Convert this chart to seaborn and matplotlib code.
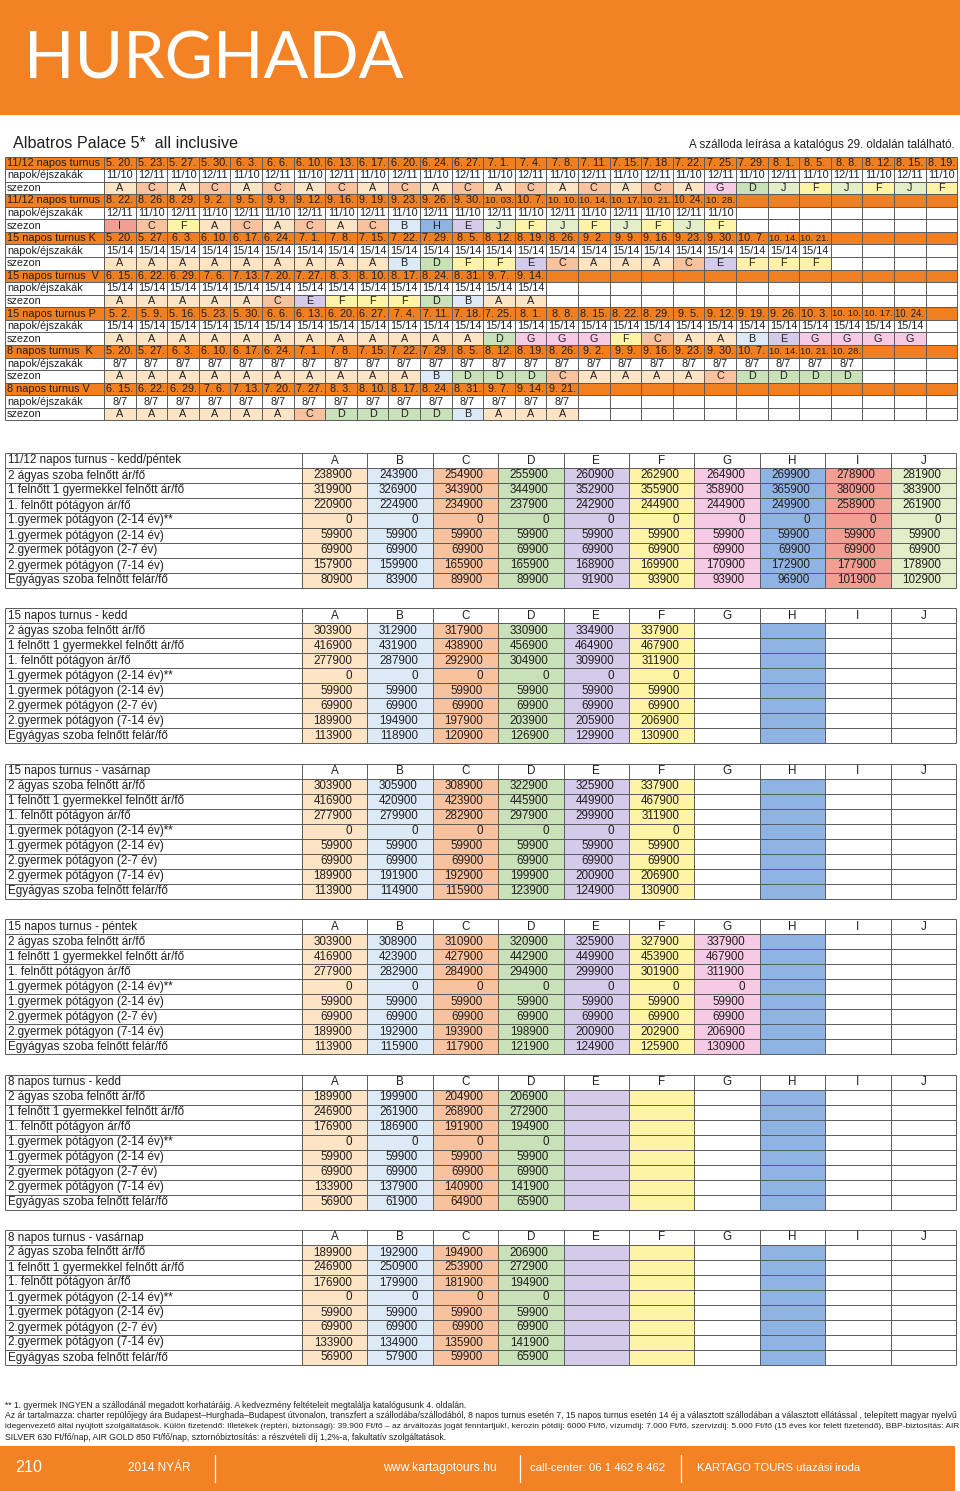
import matplotlib
matplotlib.use("Agg")
import matplotlib.pyplot as plt
from matplotlib.patches import Rectangle
from matplotlib.colors import ListedColormap
import numpy as np
import pandas as pd
import seaborn as sns

sns.set_theme(style="white")
NARROW = ["Liberation Sans Narrow", "Liberation Sans", "DejaVu Sans"]
plt.rcParams["font.family"] = NARROW

# ---------------------------------------------------------------- data
page_title = "HURGHADA"
hotel_name = "Albatros Palace 5*  all inclusive"
hotel_note = "A szálloda leírása a katalógus 29. oldalán található."

season_letters = ["A", "B", "C", "D", "E", "F", "G", "H", "I", "J"]
season_colors = ["#FDE4C4", "#DCEAF7", "#F8C29E", "#C8E1B8", "#D4CAEA",
                 "#FFF4A6", "#F6CAE5", "#8FB4E3", "#F29E93", "#E2EEC8"]

turnus_names = ["11/12 napos turnus", "11/12 napos turnus", "15 napos turnus K",
                "15 napos turnus  V", "15 napos turnus P", "8 napos turnus  K",
                "8 napos turnus V"]

dates_1 = ["5. 20.", "5. 23.", "5. 27.", "5. 30.", "6. 3.", "6. 6.", "6. 10.", "6. 13.", "6. 17.",
           "6. 20.", "6. 24.", "6. 27.", "7. 1.", "7. 4.", "7. 8.", "7. 11.", "7. 15.", "7. 18.",
           "7. 22.", "7. 25.", "7. 29.", "8. 1.", "8. 5.", "8. 8.", "8. 12.", "8. 15.", "8. 19."]
dates_2 = ["8. 22.", "8. 26.", "8. 29.", "9. 2.", "9. 5.", "9. 9.", "9. 12.", "9. 16.", "9. 19.",
           "9. 23.", "9. 26.", "9. 30.", "10. 03.", "10. 7.", "10. 10.", "10. 14.", "10. 17.",
           "10. 21.", "10. 24.", "10. 28."]
dates_3 = ["5. 20.", "5. 27.", "6. 3.", "6. 10.", "6. 17.", "6. 24.", "7. 1.", "7. 8.", "7. 15.",
           "7. 22.", "7. 29.", "8. 5.", "8. 12.", "8. 19.", "8. 26.", "9. 2.", "9. 9.", "9. 16.",
           "9. 23.", "9. 30.", "10. 7.", "10. 14.", "10. 21."]
dates_4 = ["6. 15.", "6. 22.", "6. 29.", "7. 6.", "7. 13.", "7. 20.", "7. 27.", "8. 3.", "8. 10.",
           "8. 17.", "8. 24.", "8. 31.", "9. 7.", "9. 14."]
dates_5 = ["5. 2.", "5. 9.", "5. 16.", "5. 23.", "5. 30.", "6. 6.", "6. 13.", "6. 20.", "6. 27.",
           "7. 4.", "7. 11.", "7. 18.", "7. 25.", "8. 1.", "8. 8.", "8. 15.", "8. 22.", "8. 29.",
           "9. 5.", "9. 12.", "9. 19.", "9. 26.", "10. 3.", "10. 10.", "10. 17.", "10. 24."]
dates_6 = ["5. 20.", "5. 27.", "6. 3.", "6. 10.", "6. 17.", "6. 24.", "7. 1.", "7. 8.", "7. 15.",
           "7. 22.", "7. 29.", "8. 5.", "8. 12.", "8. 19.", "8. 26.", "9. 2.", "9. 9.", "9. 16.",
           "9. 23.", "9. 30.", "10. 7.", "10. 14.", "10. 21.", "10. 28."]
dates_7 = ["6. 15.", "6. 22.", "6. 29.", "7. 6.", "7. 13.", "7. 20.", "7. 27.", "8. 3.", "8. 10.",
           "8. 17.", "8. 24.", "8. 31.", "9. 7.", "9. 14.", "9. 21."]

nights_1 = ("11/10 12/11 11/10 12/11 11/10 12/11 11/10 12/11 11/10 12/11 11/10 12/11 11/10 12/11 "
            "11/10 12/11 11/10 12/11 11/10 12/11 11/10 12/11 11/10 12/11 11/10 12/11 11/10").split()
nights_2 = ("12/11 11/10 12/11 11/10 12/11 11/10 12/11 11/10 12/11 11/10 12/11 11/10 12/11 11/10 "
            "12/11 11/10 12/11 11/10 12/11 11/10").split()
nights_3 = ["15/14"] * 23
nights_4 = ["15/14"] * 14
nights_5 = ["15/14"] * 26
nights_6 = ["8/7"] * 24
nights_7 = ["8/7"] * 15

season_1 = "A C A C A C A C A C A C A C A C A C A G D J F J F J F".split()
season_2 = "I C F A C A C A C B H E J F J F J F J F".split()
season_3 = "A A A A A A A A A B D F F E C A A A C E F F F".split()
season_4 = "A A A A A C E F F F D B A A".split()
season_5 = "A A A A A A A A A A A A D G G G F C A A B E G G G G".split()
season_6 = "A A A A A A A A A A B D D D C A A A A C D D D D".split()
season_7 = "A A A A A A C D D D D B A A A".split()

turnus_dates = [dates_1, dates_2, dates_3, dates_4, dates_5, dates_6, dates_7]
turnus_nights = [nights_1, nights_2, nights_3, nights_4, nights_5, nights_6, nights_7]
turnus_seasons = [season_1, season_2, season_3, season_4, season_5, season_6, season_7]

price_titles = ["11/12 napos turnus - kedd/péntek", "15 napos turnus - kedd",
                "15 napos turnus - vasárnap", "15 napos turnus - péntek",
                "8 napos turnus - kedd", "8 napos turnus - vasárnap"]
price_rows = ["2 ágyas szoba felnőtt ár/fő", "1 felnőtt 1 gyermekkel felnőtt ár/fő",
              "1. felnőtt pótágyon ár/fő", "1.gyermek pótágyon (2-14 év)**",
              "1.gyermek pótágyon (2-14 év)", "2.gyermek pótágyon (2-7 év)",
              "2.gyermek pótágyon (7-14 év)", "Egyágyas szoba felnőtt felár/fő"]

prices_1 = [[238900, 243900, 254900, 255900, 260900, 262900, 264900, 269900, 278900, 281900],
            [319900, 326900, 343900, 344900, 352900, 355900, 358900, 365900, 380900, 383900],
            [220900, 224900, 234900, 237900, 242900, 244900, 244900, 249900, 258900, 261900],
            [0, 0, 0, 0, 0, 0, 0, 0, 0, 0],
            [59900, 59900, 59900, 59900, 59900, 59900, 59900, 59900, 59900, 59900],
            [69900, 69900, 69900, 69900, 69900, 69900, 69900, 69900, 69900, 69900],
            [157900, 159900, 165900, 165900, 168900, 169900, 170900, 172900, 177900, 178900],
            [80900, 83900, 89900, 89900, 91900, 93900, 93900, 96900, 101900, 102900]]
prices_2 = [[303900, 312900, 317900, 330900, 334900, 337900],
            [416900, 431900, 438900, 456900, 464900, 467900],
            [277900, 287900, 292900, 304900, 309900, 311900],
            [0, 0, 0, 0, 0, 0],
            [59900, 59900, 59900, 59900, 59900, 59900],
            [69900, 69900, 69900, 69900, 69900, 69900],
            [189900, 194900, 197900, 203900, 205900, 206900],
            [113900, 118900, 120900, 126900, 129900, 130900]]
prices_3 = [[303900, 305900, 308900, 322900, 325900, 337900],
            [416900, 420900, 423900, 445900, 449900, 467900],
            [277900, 279900, 282900, 297900, 299900, 311900],
            [0, 0, 0, 0, 0, 0],
            [59900, 59900, 59900, 59900, 59900, 59900],
            [69900, 69900, 69900, 69900, 69900, 69900],
            [189900, 191900, 192900, 199900, 200900, 206900],
            [113900, 114900, 115900, 123900, 124900, 130900]]
prices_4 = [[303900, 308900, 310900, 320900, 325900, 327900, 337900],
            [416900, 423900, 427900, 442900, 449900, 453900, 467900],
            [277900, 282900, 284900, 294900, 299900, 301900, 311900],
            [0, 0, 0, 0, 0, 0, 0],
            [59900, 59900, 59900, 59900, 59900, 59900, 59900],
            [69900, 69900, 69900, 69900, 69900, 69900, 69900],
            [189900, 192900, 193900, 198900, 200900, 202900, 206900],
            [113900, 115900, 117900, 121900, 124900, 125900, 130900]]
prices_5 = [[189900, 199900, 204900, 206900],
            [246900, 261900, 268900, 272900],
            [176900, 186900, 191900, 194900],
            [0, 0, 0, 0],
            [59900, 59900, 59900, 59900],
            [69900, 69900, 69900, 69900],
            [133900, 137900, 140900, 141900],
            [56900, 61900, 64900, 65900]]
prices_6 = [[189900, 192900, 194900, 206900],
            [246900, 250900, 253900, 272900],
            [176900, 179900, 181900, 194900],
            [0, 0, 0, 0],
            [59900, 59900, 59900, 59900],
            [69900, 69900, 69900, 69900],
            [133900, 134900, 135900, 141900],
            [56900, 57900, 59900, 65900]]
price_tables = [prices_1, prices_2, prices_3, prices_4, prices_5, prices_6]
# columns that carry a season tint (even where no price is given)
tinted_columns = ["ABCDEFGHIJ", "ABCDEFH", "ABCDEFH", "ABCDEFGH", "ABCDEFH", "ABCDEFH"]

footnotes = [
    "** 1. gyermek INGYEN a szállodánál megadott korhatáráig. A kedvezmény feltételeit megtalálja katalógusunk 4. oldalán.",
    "Az ár tartalmazza: charter repülőjegy ára Budapest–Hurghada–Budapest útvonalon, transzfert a szállodába/szállodából, 8 napos turnus esetén 7, 15 napos turnus esetén 14 éj a választott szállodában a választott ellátással , telepített magyar nyelvű",
    "idegenvezető által nyújtott szolgáltatások. Külön fizetendő: Illetékek (reptéri, biztonsági): 39.900 Ft/fő – az árváltozás jogát fenntartjuk!, kerozin pótdíj: 6000 Ft/fő, vízumdíj: 7.000 Ft/fő, szervizdíj: 5.000 Ft/fő (15 éves kor felett fizetendő), BBP-biztosítás: AIR",
    "SILVER 630 Ft/fő/nap, AIR GOLD 850 Ft/fő/nap, sztornóbiztosítás: a részvételi díj 1,2%-a, fakultatív szolgáltatások.",
]
footer_page = "210"
footer_season = "2014 NYÁR"
footer_web = "www.kartagotours.hu"
footer_call = "call-center: 06 1 462 8 462"
footer_company = "KARTAGO TOURS utazási iroda"

# ---------------------------------------------------------------- layout
W, H = 960, 1491
ORANGE = "#F38224"
ORANGE_ROW = "#EF7F20"
INK = "#231F20"
GRID = "#5A5A5A"
LW = 0.7
FS_T = 7.8     # schedule table
FS_P = 8.4     # price tables
color_of = dict(zip(season_letters, season_colors))

fig = plt.figure(figsize=(W / 100, H / 100), dpi=100)
renderer = fig.canvas.get_renderer()
ax = fig.add_axes([0, 0, 1, 1])
ax.set_xlim(0, W)
ax.set_ylim(H, 0)
ax.set_axis_off()


def px_axes(x, y, w, h):
    return fig.add_axes([x / W, 1 - (y + h) / H, w / W, h / H])


def fit(t, target):
    w = t.get_window_extent(renderer=renderer).width
    t.set_fontsize(t.get_fontsize() * target / w)
    return t


def shrink_to(t, maxw):
    w = t.get_window_extent(renderer=renderer).width
    if w > maxw:
        t.set_fontsize(t.get_fontsize() * maxw / w)
    return t


# header band
ax.add_patch(Rectangle((0, 0), W, 115, fc=ORANGE, ec="none"))
ttl = ax.text(24, 60, page_title, color="white", fontsize=48, family=["Lato", "DejaVu Sans"],
              va="center", ha="left")
fit(ttl, 380)
ax.text(13, 143, hotel_name, color=INK, fontsize=11.6, va="center", ha="left")
ax.text(955, 145, hotel_note, color=INK, fontsize=8.4, va="center", ha="right")

# ---------------- schedule table
TX0, TLW, TCW = 5.0, 99.0, 31.6
TY0, TRH = 156.5, 12.57
NCOL = 27
TX_END = TX0 + TLW + NCOL * TCW
hlines, vlines = [], []
for g, (name, dts, nts, sea) in enumerate(zip(turnus_names, turnus_dates,
                                              turnus_nights, turnus_seasons)):
    y = TY0 + 3 * g * TRH
    ax.add_patch(Rectangle((TX0, y), TX_END - TX0, TRH, fc=ORANGE_ROW, ec="none"))
    ax.text(TX0 + 2, y + TRH / 2, name, fontsize=FS_T, color=INK, va="center", ha="left")
    ax.text(TX0 + 2, y + 1.5 * TRH, "napok/éjszakák", fontsize=FS_T, color=INK, va="center")
    ax.text(TX0 + 2, y + 2.5 * TRH, "szezon", fontsize=FS_T, color=INK, va="center")
    for j, d in enumerate(dts):
        cx = TX0 + TLW + (j + 0.5) * TCW
        shrink_to(ax.text(cx, y + TRH / 2, d, fontsize=FS_T, color=INK,
                          va="center", ha="center"), TCW - 2.5)
    for j, n in enumerate(nts):
        cx = TX0 + TLW + (j + 0.5) * TCW
        shrink_to(ax.text(cx, y + 1.5 * TRH, n, fontsize=FS_T, color=INK,
                          va="center", ha="center"), TCW - 2.5)
    for j, s in enumerate(sea):
        x0 = TX0 + TLW + j * TCW
        ax.add_patch(Rectangle((x0, y + 2 * TRH), TCW, TRH, fc=color_of[s], ec="none"))
        ax.text(x0 + TCW / 2, y + 2.5 * TRH, s, fontsize=FS_T, color=INK, va="center", ha="center")
TY_END = TY0 + 21 * TRH
for r in range(22):
    hlines.append((TX0, TX_END, TY0 + r * TRH))
for c in range(NCOL + 1):
    vlines.append((TX0 + TLW + c * TCW, TY0, TY_END))
vlines.append((TX0, TY0, TY_END))

# ---------------- price tables
PX0, PLW, PCW = 5.0, 297.0, 65.4
PRH = 15.0
PX_END = PX0 + PLW + 10 * PCW
cmap = ListedColormap(season_colors)
for k, (title, vals, tint) in enumerate(zip(price_titles, price_tables, tinted_columns)):
    top = 453.0 + 155.4 * k
    ax.text(PX0 + 3, top + PRH / 2, title, fontsize=FS_P, color=INK, va="center")
    for j, L in enumerate(season_letters):
        ax.text(PX0 + PLW + (j + 0.5) * PCW, top + PRH / 2, L, fontsize=FS_P, color=INK,
                va="center", ha="center")
    for i, lab in enumerate(price_rows):
        ax.text(PX0 + 3, top + (i + 1.5) * PRH, lab, fontsize=FS_P, color=INK, va="center")
    arr = np.array(vals)
    cidx = np.full((8, 10), np.nan)
    annot = np.full((8, 10), "", dtype=object)
    for j, L in enumerate(season_letters):
        if L in tint:
            cidx[:, j] = j
        if j < arr.shape[1]:
            annot[:, j] = [str(v) for v in arr[:, j]]
    df = pd.DataFrame(cidx, index=price_rows, columns=season_letters)
    hax = px_axes(PX0 + PLW, top + PRH, 10 * PCW, 8 * PRH)
    sns.heatmap(df, ax=hax, cmap=cmap, vmin=-0.5, vmax=9.5, cbar=False, annot=annot, fmt="",
                annot_kws=dict(fontsize=FS_P, color=INK), linewidths=0,
                xticklabels=False, yticklabels=False)
    hax.set_axis_off()
    for t in hax.texts:
        x, yy = t.get_position()
        t.set_position((x + 0.5 - 15.0 / PCW, yy))
        t.set_ha("right")
    for r in range(10):
        hlines.append((PX0, PX_END, top + r * PRH))
    vlines.append((PX0, top, top + 9 * PRH))
    for c in range(11):
        vlines.append((PX0 + PLW + c * PCW, top, top + 9 * PRH))

# ---------------- grid overlay
ov = fig.add_axes([0, 0, 1, 1])
ov.set_xlim(0, W)
ov.set_ylim(H, 0)
ov.set_axis_off()
for x0, x1, yy in hlines:
    ov.plot([x0, x1], [yy, yy], color=GRID, lw=LW, solid_capstyle="butt")
for xx, y0, y1 in vlines:
    ov.plot([xx, xx], [y0, y1], color=GRID, lw=LW, solid_capstyle="butt")

# ---------------- footnotes (the two full lines are justified to page width)
note_objs = []
for i, line in enumerate(footnotes):
    note_objs.append(ov.text(5, 1405 + i * 11, line, fontsize=7, color=INK,
                             va="center", ha="left"))
fit(note_objs[1], 948)
fit(note_objs[2], 948)
base_fs = note_objs[1].get_fontsize()
note_objs[0].set_fontsize(base_fs)
note_objs[3].set_fontsize(base_fs)

# ---------------- footer band
ov.add_patch(Rectangle((0, 1446), 955, H - 1446, fc=ORANGE, ec="none"))
fy = 1468
fit(ov.text(15, fy, footer_page, color="white", fontsize=13, va="center", ha="left"), 27)
fit(ov.text(128, fy, footer_season, color="white", fontsize=9, va="center", ha="left"), 62)
fit(ov.text(383, fy, footer_web, color="white", fontsize=9, va="center", ha="left"), 114)
fit(ov.text(530, fy, footer_call, color="white", fontsize=9, va="center", ha="left"), 135)
fit(ov.text(697, fy, footer_company, color="white", fontsize=9, va="center", ha="left"), 163)
for sx in (215, 520, 681):
    ov.plot([sx, sx], [1455, 1482], color="white", lw=0.9)

fig.savefig("out.png", dpi=100)
